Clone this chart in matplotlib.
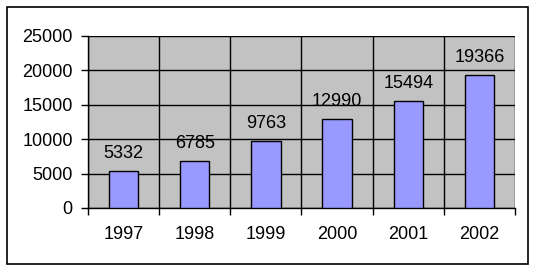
import matplotlib.pyplot as plt
import numpy as np
from matplotlib.patches import Rectangle

anos = ["1997", "1998", "1999", "2000", "2001", "2002"]
valores = [5332, 6785, 9763, 12990, 15494, 19366]
yticks = [0, 5000, 10000, 15000, 20000, 25000]

plt.rcParams['font.family'] = ['Liberation Sans', 'DejaVu Sans']

fig = plt.figure(figsize=(5.38, 2.72), dpi=100)
W, H = 538, 272
ax = fig.add_axes([88 / W, 1 - 208 / H, (515 - 88) / W, (208 - 36) / H])
ax.set_zorder(5)

# moldura externa
fig.patches.append(Rectangle((7 / W, 1 - 264 / H), 521 / W, 257 / H, transform=fig.transFigure,
                             facecolor='white', edgecolor='black', linewidth=1.2, zorder=-1))

x = np.arange(len(anos))
ax.set_facecolor('#c2c2c2')
ax.bar(x, valores, width=0.41, color='#9999ff', edgecolor='black', linewidth=1.0, zorder=3)

for xi, v in zip(x, valores):
    ax.text(xi, v + 1300, str(v), ha='center', va='bottom', fontsize=13, zorder=4)

ax.set_xlim(-0.5, len(anos) - 0.5)
ax.set_ylim(0, 25000)
ax.set_yticks(yticks)
ax.set_yticklabels([str(t) for t in yticks], fontsize=13)
ax.set_xticks(x)
ax.set_xticklabels(anos, fontsize=13)
ax.tick_params(axis='x', length=0, pad=13)
ax.set_xticks(np.arange(-0.5, len(anos), 1), minor=True)
ax.tick_params(axis='x', which='minor', length=5, width=1)
ax.tick_params(axis='y', length=5, width=1, pad=6)

ax.grid(True, axis='y', which='major', color='black', linewidth=1, zorder=1)
ax.grid(True, axis='x', which='minor', color='black', linewidth=1, zorder=1)
ax.set_axisbelow(True)
for lado in ['top', 'right']:
    ax.spines[lado].set_visible(False)
for lado in ['left', 'bottom']:
    ax.spines[lado].set_linewidth(1)

fig.savefig('out.png', dpi=100)
